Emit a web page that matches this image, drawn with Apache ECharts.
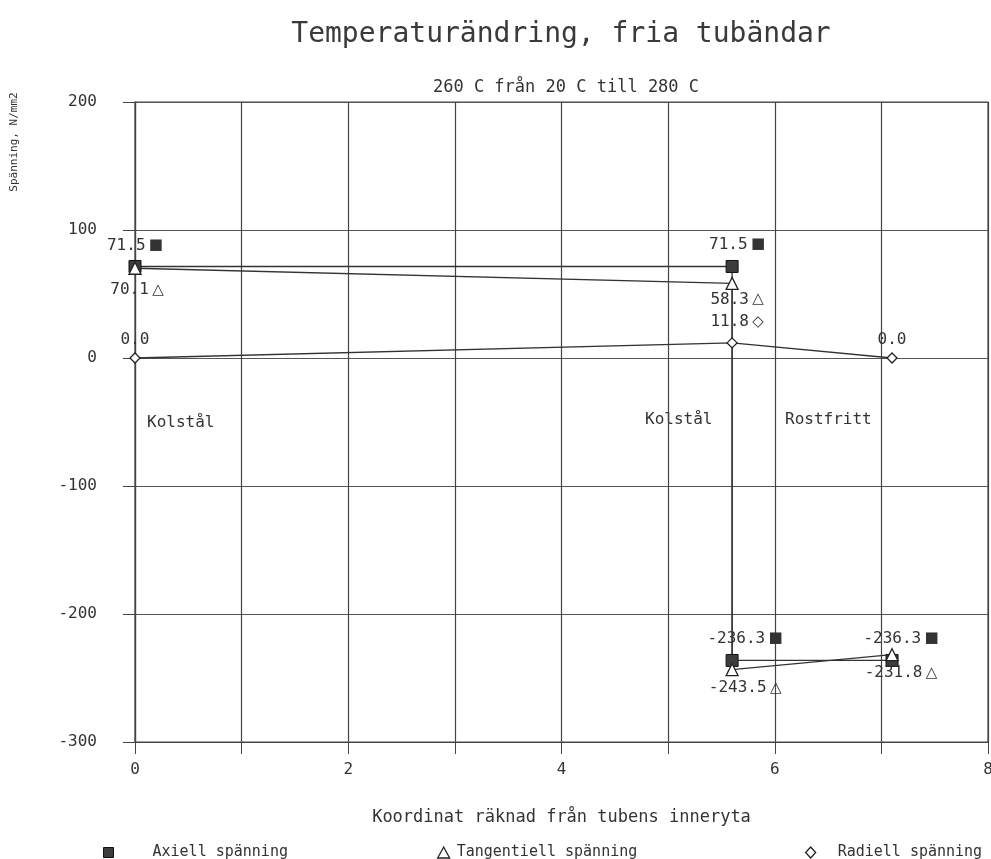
<!DOCTYPE html>
<html>
<head>
<meta charset="utf-8">
<script src="https://cdn.jsdelivr.net/npm/echarts@6/dist/echarts.min.js"></script>
<style>
  html, body { margin: 0; padding: 0; background: #fff; overflow: hidden; }
  #chart { width: 991px; height: 859px; }
</style>
</head>
<body>
<div id="chart"></div>
<script>
// Stress along the tube wall, temperature step 20 C -> 280 C
const axiellX = [0, 5.6, 5.6, 7.1];
const axiellY = [71.5, 71.5, -236.3, -236.3];
const tangX = [0, 5.6, 5.6, 7.1];
const tangY = [70.1, 58.3, -243.5, -231.8];
const radX = [0, 5.6, 7.1];
const radY = [0.0, 11.8, 0.0];

const seriesNames = ['Axiell spänning', 'Tangentiell spänning', 'Radiell spänning'];
const xTicks = [0, 2, 4, 6, 8];
const yTicks = [-300, -200, -100, 0, 100, 200];

// label placement (pixel offsets from each point)
const axiellLabelOffset = [[0, -21], [5, -22], [13, -22], [9, -22]];
const tangLabelOffset = [[2, 22], [5, 16], [13, 18], [9, 18]];
const radLabelOffset = [[0, -18], [5, -21], [0, -18]];

const MONO = '"DejaVu Sans Mono", "Liberation Mono", monospace';
const INK = '#333';

function buildData(xs, ys, offsets, glyph) {
  return xs.map((x, i) => {
    const v = ys[i];
    const txt = v.toFixed(1);
    return {
      value: [x, v],
      label: {
        show: true,
        offset: offsets[i],
        formatter: v !== 0 ? '{v|' + txt + '} {s|' + glyph + '}' : '{v|' + txt + '}'
      }
    };
  });
}

const labelBase = {
  position: 'inside',
  rich: {
    v: { fontFamily: MONO, fontSize: 16, color: INK },
    s: { fontFamily: '"DejaVu Sans", sans-serif', fontSize: 15, color: INK }
  }
};

function lineSeries(name, xs, ys, offsets, glyph, symbol, size, itemStyle) {
  return {
    name: name,
    type: 'line',
    data: buildData(xs, ys, offsets, glyph),
    symbol: symbol,
    symbolSize: size,
    showAllSymbol: true,
    itemStyle: itemStyle,
    lineStyle: { color: INK, width: 1.3 },
    label: labelBase,
    emphasis: { disabled: true },
    z: 3
  };
}

const chart = echarts.init(document.getElementById('chart'), null, { renderer: 'canvas', width: 991, height: 859 });

chart.setOption({
  animation: false,
  backgroundColor: '#fff',
  title: [
    {
      text: 'Temperaturändring, fria tubändar',
      left: 556, top: 16, textAlign: 'center',
      textStyle: { fontFamily: MONO, fontSize: 28, fontWeight: 'normal', color: '#3a3a3a' }
    },
    {
      text: '260 C från 20 C till 280 C',
      left: 561, top: 74, textAlign: 'center',
      textStyle: { fontFamily: MONO, fontSize: 17, fontWeight: 'normal', color: INK }
    }
  ],
  grid: {
    left: 135, right: 3, top: 102, bottom: 117,
    outerBoundsMode: 'none',
    containLabel: false,
    show: true, borderColor: '#444', borderWidth: 1.2
  },
  xAxis: {
    type: 'value',
    min: 0, max: 8, interval: 1,
    name: 'Koordinat räknad från tubens inneryta',
    nameLocation: 'middle',
    nameGap: 67,
    nameTextStyle: { fontFamily: MONO, fontSize: 17, color: INK },
    axisLine: { onZero: false, lineStyle: { color: '#444', width: 1.2 } },
    axisTick: { show: true, length: 12, lineStyle: { color: '#444' } },
    axisLabel: {
      margin: 20,
      fontFamily: MONO, fontSize: 16, color: INK,
      formatter: v => (xTicks.indexOf(v) >= 0 ? String(v) : '')
    },
    splitLine: { show: true, lineStyle: { color: '#444', width: 1.2 } }
  },
  yAxis: {
    type: 'value',
    min: -300, max: 200, interval: 100,
    axisLine: { show: true, lineStyle: { color: '#444', width: 1.2 } },
    axisTick: { show: true, length: 12, lineStyle: { color: '#444' } },
    axisLabel: {
      margin: 38,
      fontFamily: MONO, fontSize: 16, color: INK,
      formatter: v => (yTicks.indexOf(v) >= 0 ? String(v) : '')
    },
    splitLine: { show: true, lineStyle: { color: '#555', width: 1.1 } }
  },
  legend: [
    {
      left: 98, top: 840, itemWidth: 10, itemHeight: 10,
      selectedMode: false,
      data: [{ name: seriesNames[0], icon: 'rect', itemStyle: { color: '#3c3c3c', borderColor: '#111', borderWidth: 1 } }],
      textStyle: { fontFamily: MONO, fontSize: 15, color: INK, padding: [0, 0, 0, 34] }
    },
    {
      left: 432, top: 840, itemWidth: 12, itemHeight: 11,
      selectedMode: false,
      data: [{ name: seriesNames[1], icon: 'triangle', itemStyle: { color: '#fff', borderColor: '#222', borderWidth: 1.3 } }],
      textStyle: { fontFamily: MONO, fontSize: 15, color: INK, padding: [0, 0, 0, 2] }
    },
    {
      left: 800, top: 840, itemWidth: 10, itemHeight: 11,
      selectedMode: false,
      data: [{ name: seriesNames[2], icon: 'diamond', itemStyle: { color: '#fff', borderColor: '#222', borderWidth: 1.3 } }],
      textStyle: { fontFamily: MONO, fontSize: 15, color: INK, padding: [0, 0, 0, 17] }
    }
  ],
  graphic: [
    {
      type: 'text', x: 14, y: 142, rotation: Math.PI / 2,
      style: { text: 'Spänning, N/mm2', fontFamily: MONO, fontSize: 11, fill: INK, align: 'center', verticalAlign: 'middle' }
    },
    {
      type: 'text', x: 147, y: 423,
      style: { text: 'Kolstål', fontFamily: MONO, fontSize: 16, fill: INK, verticalAlign: 'middle' }
    },
    {
      type: 'text', x: 645, y: 420,
      style: { text: 'Kolstål', fontFamily: MONO, fontSize: 16, fill: INK, verticalAlign: 'middle' }
    },
    {
      type: 'text', x: 785, y: 420,
      style: { text: 'Rostfritt', fontFamily: MONO, fontSize: 16, fill: INK, verticalAlign: 'middle' }
    }
  ],
  series: [
    lineSeries(seriesNames[0], axiellX, axiellY, axiellLabelOffset, '■', 'rect', 12,
      { color: '#3c3c3c', borderColor: '#111', borderWidth: 1 }),
    lineSeries(seriesNames[1], tangX, tangY, tangLabelOffset, '△', 'triangle', 12,
      { color: '#fff', borderColor: '#222', borderWidth: 1.3 }),
    lineSeries(seriesNames[2], radX, radY, radLabelOffset, '◇', 'diamond', 10,
      { color: '#fff', borderColor: '#222', borderWidth: 1.3 })
  ]
});
</script>
</body>
</html>
